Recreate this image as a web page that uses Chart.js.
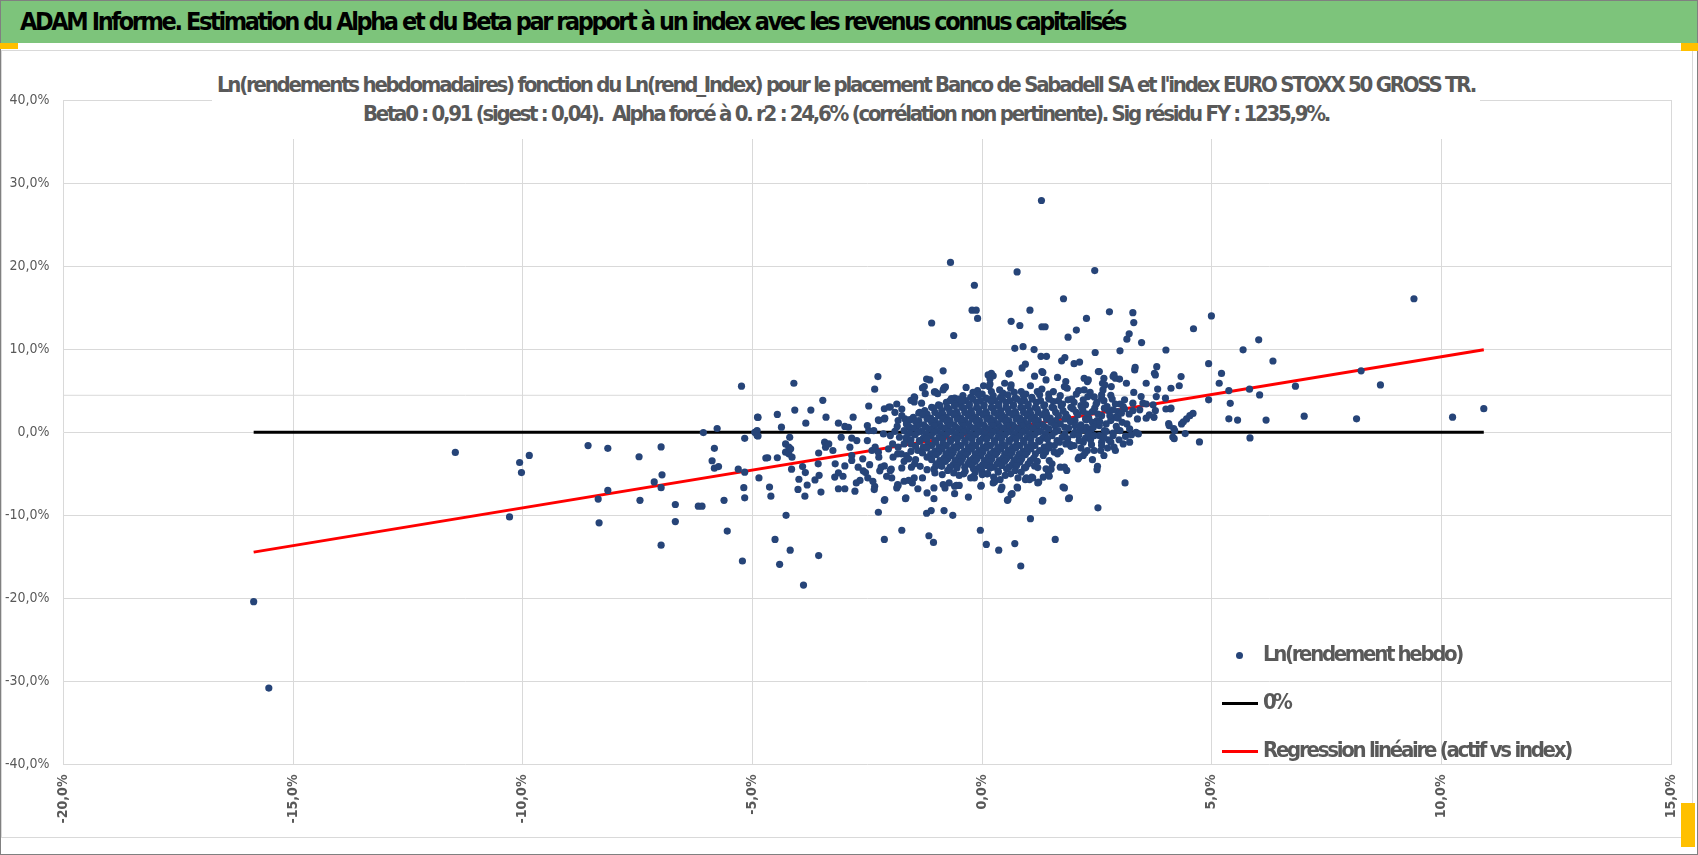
<!DOCTYPE html>
<html lang="fr">
<head>
<meta charset="utf-8">
<title>ADAM Informe - Alpha et Beta</title>
<script src="https://cdn.jsdelivr.net/npm/chart.js@4.4.1/dist/chart.umd.min.js"></script>
<style>
  html, body { margin: 0; padding: 0; background: #fff; }
  body { width: 1698px; height: 855px; position: relative; overflow: hidden;
         font-family: "DejaVu Sans Condensed", "DejaVu Sans", sans-serif; }
  #cadre { position: absolute; left: 0; top: 0; width: 1696px; height: 853px; border: 1px solid #808080; }
  #bordure { position: absolute; left: 1px; top: 50px; width: 1690px; height: 786px; border: 1px solid #d9d9d9; }
  #graphique { position: absolute; left: 0; top: 0; }
  #bandeau { position: absolute; left: 1px; top: 1px; width: 1696px; height: 42px; background: #7dc47b;
             font-weight: bold; font-size: 25px; line-height: 42px; color: #000; white-space: nowrap; }
  #bandeau span { display: inline-block; margin-left: 19px; }
  #titre { position: absolute; left: 212px; top: 70px; width: 1268px; height: 69px; background: #fff;
           color: #595959; font-weight: bold; font-size: 22px; text-align: center; white-space: nowrap; }
  #titre span { display: inline-block; line-height: 29px; }
  .legende { position: absolute; color: #595959; font-size: 22px; font-weight: bold; white-space: nowrap; line-height: 26px; }
  .poignee { position: absolute; background: #ffc000; }
</style>
</head>
<body>
<div id="cadre"></div>
<div id="bordure"></div>
<canvas id="graphique" width="1698" height="855"></canvas>
<div id="bandeau"><span id="texteBandeau">ADAM Informe. Estimation du Alpha et du Beta par rapport à un index avec les revenus connus capitalisés</span></div>
<div id="titre">
  <span id="titre1">Ln(rendements hebdomadaires) fonction du Ln(rend_Index) pour le placement Banco de Sabadell SA et l'index EURO STOXX 50 GROSS TR.</span><br>
  <span id="titre2">Beta0 : 0,91 (sigest : 0,04).&nbsp; Alpha forcé à 0. r2 : 24,6% (corrélation non pertinente). Sig résidu FY : 1235,9%.</span>
</div>
<div id="legende"></div>
<div class="poignee" style="left:0;top:43px;width:18px;height:6px"></div>
<div class="poignee" style="left:1681px;top:43px;width:17px;height:8px"></div>
<div class="poignee" style="left:1681px;top:803px;width:14px;height:44px"></div>

<script>
// Graduations des axes (en %)
const ticksX = [-20, -15, -10, -5, 0, 5, 10, 15];
const ticksY = [-40, -30, -20, -10, 0, 10, 20, 30, 40];

// Beta0 de la régression (alpha forcé à 0)
const beta0 = 0.91;
// ligne grise horizontale visible sur le graphique (axe secondaire)
const ligneAxeSecondaire = 4.45;

// Points : [rend_Index %, rendement hebdo %]
// queue gauche (x < -5)
const nuageQueue = [
  [-15.86,-20.4],[-15.53,-30.8],[-11.47,-2.43],[-10.07,-3.64],[-10.03,-4.85],[-9.86,-2.79],[-10.29,-10.2],
  [-8.58,-1.61],[-8.15,-1.94],[-8.36,-8.05],[-8.15,-7.0],[-8.34,-10.9],[-7.47,-2.95],[-7.45,-8.2],
  [-6.99,-1.77],[-6.97,-5.13],[-7.14,-5.98],[-6.99,-6.67],[-6.99,-13.6],[-6.68,-8.7],[-6.68,-10.75],
  [-6.18,-8.9],[-6.1,-8.9],[-6.07,-0.04],[-5.83,-1.94],[-5.88,-3.43],[-5.83,-4.32],[-5.74,-4.13],
  [-5.77,0.45],[-5.62,-8.2],[-5.55,-11.9],[-5.24,5.55],[-5.31,-4.45],[-5.17,-4.81],[-5.17,-0.73],
  [-5.19,-6.67],[-5.17,-7.89],[-5.22,-15.5]
];

// flanc gauche (-5 <= x < -2)
const nuageGauche = [
  [-4.88,1.78],[-4.95,0.0],[-4.9,0.2],[-4.9,-0.4],[-4.71,-3.1],[-4.86,-5.5],[-4.10,5.9],[-3.47,3.84],
  [-4.08,2.67],[-3.73,2.67],[-4.46,2.14],[-4.89,1.82],[-3.40,1.82],[-3.84,1.09],[-4.37,0.61],[-4.94,-0.04],
  [-4.88,-0.45],[-4.19,-0.61],[-4.28,-1.4],[-4.21,-1.8],[-4.28,-2.4],[-4.21,-2.6],[-4.14,-3.0],[-4.17,-2.0],
  [-4.67,-3.07],[-4.46,-3.07],[-4.15,-4.45],[-4.63,-6.6],[-4.6,-7.7],[-3.99,-5.66],[-4.01,-6.88],[-3.86,-7.69],
  [-3.81,-6.35],[-3.91,-4.13],[-3.85,-4.85],[-3.64,-5.74],[-3.55,-5.18],[-3.51,-7.2],[-3.56,-2.5],[-3.57,-3.8],
  [-3.43,-1.2],[-3.41,-1.8],[-3.34,-1.4],[-3.25,-2.2],[-3.2,-3.8],[-3.21,-5.4],[-3.13,-4.9],[-2.99,-4.05],
  [-3.03,-5.3],[-3.13,-6.8],[-2.99,-6.8],[-3.07,-0.6],[-3.13,1.09],[-2.99,0.7],[-2.91,0.6],[-2.81,1.82],
  [-2.84,-0.7],[-2.88,-1.8],[-2.73,-1.0],[-2.84,-2.8],[-2.84,-3.4],[-2.7,-4.2],[-2.59,-4.65],[-2.66,-5.8],
  [-2.77,-7.1],[-2.74,-6.1],[-4.27,-10.0],[-4.51,-12.9],[-4.41,-15.9],[-4.18,-14.2],[-3.56,-14.85],[-3.89,-18.4],
  [-2.27,6.7],[-2.34,5.18],[-2.47,3.16],[-2.13,2.83],[-2.03,3.03],[-2.26,1.5],[-2.13,1.6],[-2.5,0.8],
  [-2.47,0.2],[-2.36,0.2],[-2.26,-9.63],[-2.13,-12.9],[-2.13,-8.2],[-2.34,-6.5],[-2.38,-5.9],[-2.49,-5.5],
  [-2.54,-4.85],[-2.23,-4.65],[-2.13,-4.05],[-2.4,-2.2],[-2.25,-3.0],[-2.25,1.4],[-2.12,1.7],[-2.15,-0.2],
  [-2.33,-1.8],[-2.26,-2.4],[-2.04,-2.0],[-2.2,-4.2],[-2.08,-5.3],[-2.12,-8.1],[-2.5,-1.0],[-2.6,-3.2],
  [-2.45,-3.9],[-2.35,-6.9]
];

// autour du coeur (-2 <= x < 2), hors zone très dense
const nuageCentre = [
  [-1.98,-4.45],[-2.0,3.03],[-1.86,3.4],[-2.0,-0.4],[-1.9,0.1],[-1.83,1.4],[-1.68,1.6],[-1.57,1.5],
  [-1.83,-1.8],[-1.76,-2.6],[-1.65,-2.8],[-2.0,-4.6],[-1.97,-5.5],[-1.83,-6.4],[-1.86,-6.7],[-1.66,-7.9],
  [-1.84,-6.3],[-1.7,-5.9],[-1.52,-6.1],[-1.48,-5.5],[-1.3,-5.5],[-1.05,-6.7],[-0.85,-6.3],[-0.72,-6.1],
  [-0.6,-6.5],[-0.5,-6.4],[-0.19,-5.3],[-0.03,-6.5],[0.24,-6.1],[-0.87,-5.1],[-1.05,-4.45],[-1.01,-4.05],
  [-1.03,-4.9],[-0.81,-6.7],[-0.56,-6.4],[-0.17,-5.5],[-1.54,-4.2],[-1.47,-3.8],[-1.75,-4.3],[-1.6,-5.8],
  [-1.7,-3.5],[-1.4,-6.8],[-1.2,-7.3],[-1.05,-8.0],[-0.6,-7.4],[-0.3,-7.8],[-1.84,-2.6],[-1.94,-3.0],
  [-1.9,2.4],[-1.75,2.0],[-1.65,-0.9],[-1.8,-0.6],[-1.95,-1.4],[-1.7,-1.4],[-1.85,0.7],[-1.75,2.8],
  [-1.6,-3.2],[-1.45,-3.3],[-1.35,-4.1],[-1.2,-4.5],[-1.55,-2.3],
  [-1.26,5.5],[-1.24,4.65],[-1.02,4.85],[-0.97,4.65],[-0.82,5.35],[-0.85,5.1],[-1.47,4.17],[-1.48,3.64],
  [-1.32,3.5],[-0.67,4.05],[-0.51,3.4],[-1.36,2.4],[-1.55,3.84],[-1.48,4.25],[-1.3,5.34],[-1.04,4.85],
  [-0.83,5.34],[-0.8,5.46],[-1.21,6.4],[-1.14,6.3],[-0.85,7.4],[0.24,6.8],[0.17,6.4],[0.03,5.6],
  [0.17,5.8],[0.2,7.1],[0.13,6.9],[0.58,7.0],
  [-1.75,-11.8],[-1.67,-8.0],[-1.21,-9.75],[-1.11,-9.43],[-1.16,-12.46],[-1.06,-13.27],[-0.83,-9.43],
  [-0.64,-10.0],[-0.04,-11.8],[0.09,-13.5],[0.36,-14.2],[0.71,-13.4],[0.84,-16.1],[1.05,-10.4],[1.59,-12.9],
  [1.31,-8.3],[1.88,-8.0],[1.76,-6.6],[0.55,-8.2],[0.65,-7.4],[0.76,-6.6],[0.43,-6.6],[0.27,-5.95],
  [0.39,-5.7],[-0.02,-6.4],[0.12,-5.0],[0.94,-5.7],[1.08,-5.4],[1.23,-6.0],[1.33,-5.4],[1.44,-5.0],
  [1.52,-3.8],[1.7,-4.2],[1.84,-4.6],[0.77,-6.7],[0.41,-6.9],[0.63,-7.5],[0.56,-8.1],[1.32,-8.2],
  [1.9,-7.9],[1.79,-6.7],[1.21,-6.1],[0.96,-5.5],[1.03,-5.7],[1.1,-5.5],[1.46,-5.3],[1.14,-4.05],
  [1.21,-4.25],[1.39,-4.4],[1.46,-3.4],[1.79,-4.2],[1.5,-4.45],[1.57,-2.4],[1.64,-2.6]
];

// zone très dense, lue par bandes horizontales
const coeurDense = [
  [-0.35,5.4],[-0.1,5.0],[0.15,5.5],[0.38,5.1],[0.62,5.3],[0.85,4.9],[1.05,5.6],[1.3,5.2],[1.55,4.9],[1.85,5.3],[2.1,5.0],
  [-0.2,4.8],[0.0,4.6],[0.2,4.9],[0.45,4.7],[0.7,4.8],[0.95,4.6],[1.2,4.9],[1.45,4.6],
  [-0.6,4.1],[-0.42,4.4],[-0.25,4.2],[-0.08,4.5],[0.08,4.1],[0.24,4.4],[0.4,4.2],[0.56,4.5],[0.72,4.1],
  [0.9,4.4],[1.08,4.2],[1.25,4.5],[1.45,4.1],[1.7,4.4],[1.95,4.0],[2.3,4.3],[2.6,4.1],
  [-0.7,3.8],[-0.52,4.0],[-0.36,3.8],[-0.2,4.0],[-0.04,3.8],[0.12,4.0],[0.28,3.8],[0.44,4.0],[0.6,3.8],
  [0.76,4.0],[0.92,3.8],[1.09,4.0],[1.27,3.8],[1.46,4.0],[1.66,3.8],[1.87,3.9],
  [-0.95,3.3],[-0.78,3.6],[-0.6,3.4],[-0.44,3.7],[-0.28,3.4],[-0.12,3.6],[0.04,3.3],[0.2,3.7],[0.36,3.4],
  [0.52,3.6],[0.68,3.3],[0.84,3.7],[1.0,3.4],[1.18,3.6],[1.36,3.3],[1.55,3.7],[1.75,3.4],[2.0,3.6],
  [2.25,3.3],[2.5,3.6],[3.0,3.4],
  [-1.1,3.0],[-0.92,3.2],[-0.76,3.0],[-0.6,3.2],[-0.44,3.0],[-0.28,3.2],[-0.12,3.0],[0.04,3.2],[0.2,3.0],
  [0.36,3.2],[0.52,3.0],[0.68,3.2],[0.84,3.0],[1.0,3.2],[1.16,3.0],[1.34,3.2],[1.52,3.0],[1.72,3.2],
  [1.93,3.0],[2.15,3.2],
  [-1.25,2.6],[-1.05,2.9],[-0.88,2.6],[-0.72,2.8],[-0.56,2.5],[-0.4,2.9],[-0.24,2.6],[-0.08,2.8],[0.08,2.5],
  [0.24,2.9],[0.4,2.6],[0.56,2.8],[0.72,2.5],[0.88,2.9],[1.04,2.6],[1.2,2.8],[1.38,2.5],[1.56,2.9],
  [1.76,2.6],[1.98,2.8],[2.2,2.5],[2.45,2.9],[2.75,2.6],[3.1,2.8],
  [-1.38,2.3],[-1.2,2.2],[-1.03,2.4],[-0.86,2.2],[-0.7,2.4],[-0.54,2.2],[-0.38,2.4],[-0.22,2.2],[-0.06,2.4],
  [0.1,2.2],[0.26,2.4],[0.42,2.2],[0.58,2.4],[0.74,2.2],[0.9,2.4],[1.06,2.2],[1.22,2.4],[1.4,2.2],
  [1.6,2.4],[1.82,2.2],[2.05,2.4],[2.3,2.2],
  [-1.5,1.8],[-1.3,2.1],[-1.12,1.7],[-0.95,2.0],[-0.78,1.8],[-0.62,2.1],[-0.46,1.7],[-0.3,2.0],[-0.14,1.8],
  [0.02,2.1],[0.18,1.7],[0.34,2.0],[0.5,1.8],[0.66,2.1],[0.82,1.7],[0.98,2.0],[1.14,1.8],[1.3,2.1],
  [1.48,1.7],[1.66,2.0],[1.86,1.8],[2.08,2.1],[2.32,1.7],[2.6,2.0],[2.9,1.8],
  [-1.58,1.5],[-1.38,1.4],[-1.2,1.6],[-1.03,1.4],[-0.86,1.6],[-0.7,1.4],[-0.54,1.6],[-0.38,1.4],[-0.22,1.6],
  [-0.06,1.4],[0.1,1.6],[0.26,1.4],[0.42,1.6],[0.58,1.4],[0.74,1.6],[0.9,1.4],[1.06,1.6],[1.22,1.4],
  [1.4,1.6],[1.6,1.4],[1.8,1.6],[2.02,1.4],[2.25,1.6],[2.5,1.4],
  [-1.65,1.0],[-1.45,1.3],[-1.27,0.9],[-1.1,1.2],[-0.93,1.0],[-0.77,1.3],[-0.61,0.9],[-0.45,1.2],[-0.29,1.0],
  [-0.13,1.3],[0.03,0.9],[0.19,1.2],[0.35,1.0],[0.51,1.3],[0.67,0.9],[0.83,1.2],[0.99,1.0],[1.15,1.3],
  [1.32,0.9],[1.5,1.2],[1.7,1.0],[1.92,1.3],[2.15,0.9],[2.4,1.2],[2.7,1.0],[3.05,1.2],
  [-1.6,0.7],[-1.4,0.8],[-1.22,0.6],[-1.05,0.8],[-0.89,0.6],[-0.73,0.8],[-0.57,0.6],[-0.41,0.8],[-0.25,0.6],
  [-0.09,0.8],[0.07,0.6],[0.23,0.8],[0.39,0.6],[0.55,0.8],[0.71,0.6],[0.87,0.8],[1.03,0.6],[1.2,0.8],
  [1.38,0.6],[1.58,0.8],[1.8,0.6],[2.02,0.8],[2.27,0.6],[2.55,0.8],
  [-1.7,0.2],[-1.5,0.5],[-1.32,0.1],[-1.15,0.4],[-0.98,0.2],[-0.82,0.5],[-0.66,0.1],[-0.5,0.4],[-0.34,0.2],
  [-0.18,0.5],[-0.02,0.1],[0.14,0.4],[0.3,0.2],[0.46,0.5],[0.62,0.1],[0.78,0.4],[0.94,0.2],[1.1,0.5],
  [1.27,0.1],[1.45,0.4],[1.65,0.2],[1.88,0.5],[2.12,0.1],[2.38,0.4],[2.66,0.2],[2.95,0.3],
  [-1.58,-0.1],[-1.4,0.0],[-1.22,-0.2],[-1.05,0.0],[-0.89,-0.2],[-0.73,0.0],[-0.57,-0.2],[-0.41,0.0],[-0.25,-0.2],
  [-0.09,0.0],[0.07,-0.2],[0.23,0.0],[0.39,-0.2],[0.55,0.0],[0.71,-0.2],[0.87,0.0],[1.03,-0.2],[1.2,0.0],
  [1.38,-0.2],[1.58,0.0],[1.8,-0.2],[2.02,0.0],[2.3,-0.1],
  [-1.65,-0.6],[-1.46,-0.3],[-1.28,-0.7],[-1.11,-0.4],[-0.94,-0.6],[-0.78,-0.3],[-0.62,-0.7],[-0.46,-0.4],
  [-0.3,-0.6],[-0.14,-0.3],[0.02,-0.7],[0.18,-0.4],[0.34,-0.6],[0.5,-0.3],[0.66,-0.7],[0.82,-0.4],
  [0.98,-0.6],[1.14,-0.3],[1.32,-0.7],[1.52,-0.4],[1.74,-0.6],[1.98,-0.3],[2.25,-0.7],[2.55,-0.4],
  [-1.55,-0.9],[-1.37,-1.0],[-1.2,-0.8],[-1.03,-1.0],[-0.86,-0.8],[-0.7,-1.0],[-0.54,-0.8],[-0.38,-1.0],
  [-0.22,-0.8],[-0.06,-1.0],[0.1,-0.8],[0.26,-1.0],[0.42,-0.8],[0.58,-1.0],[0.74,-0.8],[0.9,-1.0],
  [1.06,-0.8],[1.23,-1.0],[1.42,-0.8],[1.63,-1.0],[1.86,-0.8],
  [-1.55,-1.4],[-1.36,-1.1],[-1.18,-1.5],[-1.01,-1.2],[-0.85,-1.4],[-0.69,-1.1],[-0.53,-1.5],[-0.37,-1.2],
  [-0.21,-1.4],[-0.05,-1.1],[0.11,-1.5],[0.27,-1.2],[0.43,-1.4],[0.59,-1.1],[0.75,-1.5],[0.91,-1.2],
  [1.07,-1.4],[1.25,-1.1],[1.45,-1.5],[1.68,-1.2],[1.92,-1.5],[2.2,-1.2],
  [-1.45,-1.7],[-1.28,-1.8],[-1.1,-1.6],[-0.94,-1.8],[-0.78,-1.6],[-0.62,-1.8],[-0.46,-1.6],[-0.3,-1.8],
  [-0.14,-1.6],[0.02,-1.8],[0.18,-1.6],[0.34,-1.8],[0.5,-1.6],[0.66,-1.8],[0.82,-1.6],[0.98,-1.8],
  [1.15,-1.6],[1.35,-1.8],[1.57,-1.6],
  [-1.4,-2.2],[-1.2,-1.9],[-1.03,-2.3],[-0.87,-2.0],[-0.71,-2.2],[-0.55,-1.9],[-0.39,-2.3],[-0.23,-2.0],
  [-0.07,-2.2],[0.09,-1.9],[0.25,-2.3],[0.41,-2.0],[0.57,-2.2],[0.73,-1.9],[0.89,-2.3],[1.06,-2.0],
  [1.25,-2.2],[1.46,-1.9],[1.7,-2.3],
  [-1.3,-2.5],[-1.12,-2.6],[-0.95,-2.4],[-0.79,-2.6],[-0.63,-2.4],[-0.47,-2.6],[-0.31,-2.4],[-0.15,-2.6],
  [0.01,-2.4],[0.17,-2.6],[0.33,-2.4],[0.49,-2.6],[0.65,-2.4],[0.81,-2.6],[0.98,-2.4],[1.16,-2.6],[1.38,-2.4],
  [-1.2,-3.0],[-1.0,-2.7],[-0.83,-3.1],[-0.67,-2.8],[-0.51,-3.0],[-0.35,-2.7],[-0.19,-3.1],[-0.03,-2.8],
  [0.13,-3.0],[0.29,-2.7],[0.45,-3.1],[0.61,-2.8],[0.77,-3.0],[0.94,-2.7],[1.12,-3.1],[1.33,-2.8],
  [-1.1,-3.3],[-0.92,-3.4],[-0.75,-3.2],[-0.59,-3.4],[-0.43,-3.2],[-0.27,-3.4],[-0.11,-3.2],[0.05,-3.4],
  [0.21,-3.2],[0.37,-3.4],[0.53,-3.2],[0.69,-3.4],[0.86,-3.2],[1.05,-3.4],
  [-1.0,-3.8],[-0.8,-3.5],[-0.63,-3.9],[-0.47,-3.6],[-0.31,-3.8],[-0.15,-3.5],[0.01,-3.9],[0.17,-3.6],
  [0.33,-3.8],[0.49,-3.5],[0.65,-3.9],[0.82,-3.6],[1.0,-3.8],[1.2,-3.5],
  [-0.88,-4.1],[-0.7,-4.2],[-0.54,-4.0],[-0.38,-4.2],[-0.22,-4.0],[-0.06,-4.2],[0.1,-4.0],[0.26,-4.2],
  [0.42,-4.0],[0.58,-4.2],[0.75,-4.0],[0.95,-4.2],
  [-0.75,-4.6],[-0.55,-4.3],[-0.37,-4.7],[-0.19,-4.4],[-0.01,-4.6],[0.17,-4.3],[0.35,-4.7],[0.53,-4.4],
  [0.72,-4.6],[0.92,-4.3],
  [-0.62,-4.9],[-0.4,-5.0],[-0.15,-4.8],[0.1,-5.0],[0.35,-4.8],[0.62,-5.0],[0.85,-4.8],
  [-0.5,-5.2],[-0.25,-5.5],[0.0,-5.1],[0.25,-5.4],[0.5,-5.2],[0.78,-5.5]
];

// points hauts (au-dessus de 7 %)
const nuageHaut = [
  [1.29,27.9],[-0.69,20.45],[0.76,19.3],[2.45,19.46],[1.77,16.07],[-0.17,17.7],[-0.22,14.7],[-0.13,14.7],
  [-0.1,13.7],[-1.1,13.15],[-0.62,11.65],[1.04,14.7],[0.63,13.35],[0.82,12.85],[1.3,12.7],[1.37,12.7],
  [2.77,14.5],[2.27,13.7],[2.05,12.3],[1.87,11.45],[3.28,14.4],[3.30,13.2],[3.2,11.85],[3.15,11.2],
  [3.47,10.8],[3.0,9.8],[2.46,9.6],[0.71,10.1],[0.89,10.3],[1.13,9.95],[1.28,9.14],[1.4,9.14],
  [1.73,8.6],[1.8,9.0],[2.0,8.25],[2.12,8.45],[0.94,8.2],[0.87,7.75],[1.3,7.3]
];

// centre droit (2 <= x < 3.5 et bords du coeur)
const nuageDroitCentre = [
  [0.59,7.1],[0.49,5.9],[0.63,5.7],[1.14,6.75],[1.32,7.2],[1.39,6.3],[1.64,6.6],[1.82,6.1],[1.79,5.5],
  [2.22,6.5],[2.29,6.1],[2.55,7.3],[2.65,6.5],[2.62,5.9],[2.87,6.9],[2.9,6.5],[2.22,5.1],[2.44,4.25],
  [2.65,3.8],[2.8,4.45],[2.9,3.4],[3.32,7.5],[3.14,5.9],[2.85,6.7],[2.99,6.4],[2.81,5.5],[2.67,5.7],
  [2.53,7.3],[2.31,6.3],[2.63,5.1],[3.28,3.5],[3.43,2.7],[3.46,4.3],[3.33,7.8],
  [2.05,4.6],[2.2,3.9],[2.35,4.8],[2.48,3.4],[2.6,4.5],[2.72,3.1],[2.83,4.0],[2.95,2.5],[3.1,3.9],
  [3.2,2.2],[3.3,4.8],[3.38,1.6],[2.18,2.9],[2.4,2.5],[2.52,2.2],[2.66,2.9],[2.8,1.4],[2.92,0.7],
  [3.15,1.0],[3.28,2.6],[2.1,-0.4],[2.2,0.3],[2.33,-0.2],[2.48,1.0],[2.6,-1.2],[2.75,-0.9],[2.98,-0.9],
  [3.12,-0.5],[3.25,-0.3],[2.15,-1.9],[2.38,-1.5],[2.6,-1.6],[2.8,-1.2],[2.2,-2.8],[2.4,-3.3],[2.65,-2.8],
  [2.11,-3.0],[2.29,-2.2],[2.44,-2.2],[2.58,-2.2],[2.73,-1.9],[2.87,-1.8],[2.51,-4.1],[2.11,-1.0],
  [2.36,-0.9],[2.44,-0.4],[2.65,-0.6],[2.85,-0.4],[1.82,-1.4],[1.93,-1.7],[2.0,-1.6],[2.09,-3.2],
  [2.24,-2.5],[2.9,-2.2],[3.07,-1.4],[3.21,-1.2],[3.35,0.0],[2.7,0.1],[2.85,-0.1],[3.0,0.2],
  [3.21,0.4],[3.4,-0.2],[2.96,1.7],[3.03,2.3],[3.07,3.1],[2.85,2.7],[2.78,2.0],[2.56,1.25],
  [2.42,0.6],[2.27,1.5],[2.13,0.6],[2.5,-4.5],[2.52,-9.1],[3.11,-6.1]
];

// flanc droit (x >= 3.5)
const nuageDroit = [
  [3.5,3.5],[3.57,5.9],[3.57,3.4],[3.57,1.7],[3.64,2.1],[3.72,3.3],[3.74,1.8],[3.75,7.1],[3.77,6.9],
  [3.77,2.6],[3.79,4.3],[3.8,7.9],[3.82,5.2],[3.99,4.1],[4.0,9.9],[4.0,2.8],[4.06,1.05],[4.07,0.8],
  [4.1,2.8],[4.11,5.3],[4.11,2.9],[4.15,-0.57],[4.18,-0.77],[4.19,0.2],[4.17,0.45],[4.29,5.6],
  [4.33,6.7],[4.34,1.0],[4.38,1.25],[4.42,-0.16],[4.45,1.6],[4.52,2.0],[4.59,2.27],[4.6,12.46],
  [4.73,-1.17],[4.93,8.25],[4.93,3.9],[4.99,14.0],[5.16,5.9],[5.21,7.08],[5.37,5.02],[5.4,3.48],
  [5.37,1.62],[5.56,1.46],[5.68,9.92],[5.82,5.18],[5.83,-0.68],[6.02,11.13],[6.04,4.49],[6.18,1.46],
  [6.33,8.58],[6.82,5.55],[7.01,1.94],[8.15,1.62],[8.25,7.4],[8.67,5.7],[9.40,16.07],[10.24,1.82],
  [10.92,2.84]
];

const tousLesPoints = [].concat(nuageQueue, nuageGauche, nuageCentre, coeurDense, nuageHaut, nuageDroitCentre, nuageDroit);
const xs = tousLesPoints.map(p => p[0]);
const xMin = Math.min(...xs);
const xMax = Math.max(...xs);

const pourcent = v => v.toFixed(1).replace('.', ',') + '%';
const gris = '#595959';
const grille = '#d9d9d9';

const ctx = document.getElementById('graphique').getContext('2d');
const chart = new Chart(ctx, {
  type: 'scatter',
  data: {
    datasets: [
      {
        label: 'Ln(rendement hebdo)',
        data: tousLesPoints.map(p => ({ x: p[0], y: p[1] })),
        backgroundColor: '#264478',
        borderWidth: 0,
        pointRadius: 3.6,
        pointHoverRadius: 3.6,
        order: 0
      },
      {
        label: '0%',
        type: 'line',
        data: [{ x: xMin, y: 0 }, { x: xMax, y: 0 }],
        borderColor: '#000000',
        borderWidth: 3,
        pointRadius: 0,
        order: 2
      },
      {
        label: 'Regression linéaire (actif vs index)',
        type: 'line',
        data: [{ x: xMin, y: beta0 * xMin }, { x: xMax, y: beta0 * xMax }],
        borderColor: '#ff0000',
        borderWidth: 3,
        pointRadius: 0,
        order: 1
      },
      {
        label: '',
        type: 'line',
        data: [{ x: ticksX[0], y: ligneAxeSecondaire }, { x: ticksX[ticksX.length - 1], y: ligneAxeSecondaire }],
        borderColor: grille,
        borderWidth: 1,
        pointRadius: 0,
        order: 3
      }
    ]
  },
  options: {
    responsive: false,
    animation: false,
    devicePixelRatio: 1,
    layout: { padding: { top: 100, right: 16, left: 0, bottom: 0 } },
    plugins: { legend: { display: false }, tooltip: { enabled: false } },
    scales: {
      x: {
        type: 'linear',
        min: ticksX[0],
        max: ticksX[ticksX.length - 1],
        afterBuildTicks: s => { s.ticks = ticksX.map(v => ({ value: v })); },
        afterFit: s => { s.height = 90.5; },
        grid: { color: grille, lineWidth: 1, drawTicks: false },
        border: { display: false },
        ticks: {
          callback: pourcent,
          minRotation: 90,
          maxRotation: 90,
          padding: 10,
          color: gris,
          font: { family: '"DejaVu Sans Condensed", "DejaVu Sans"', size: 14, weight: 'bold' }
        }
      },
      y: {
        min: ticksY[0],
        max: ticksY[ticksY.length - 1],
        afterBuildTicks: s => { s.ticks = ticksY.map(v => ({ value: v })); },
        afterFit: s => { s.width = 63.5; },
        grid: { color: grille, lineWidth: 1, drawTicks: false },
        border: { display: false },
        ticks: {
          callback: pourcent,
          padding: 14,
          color: gris,
          font: { family: '"DejaVu Sans Condensed", "DejaVu Sans"', size: 14 }
        }
      }
    }
  }
});

// Légende : construite à partir des séries du graphique
const positionsLegende = [
  { y: 655, text: 1263 },
  { y: 703, text: 1263 },
  { y: 751, text: 1263 }
];
const legende = document.getElementById('legende');
chart.data.datasets.slice(0, 3).forEach((ds, i) => {
  const pos = positionsLegende[i];
  const marque = document.createElement('div');
  marque.style.position = 'absolute';
  if (i === 0) {
    marque.style.left = '1236px';
    marque.style.top = (pos.y - 3.5) + 'px';
    marque.style.width = '7px';
    marque.style.height = '7px';
    marque.style.borderRadius = '50%';
    marque.style.background = ds.backgroundColor;
  } else {
    marque.style.left = '1222px';
    marque.style.top = (pos.y - 1.5) + 'px';
    marque.style.width = '36px';
    marque.style.height = '3px';
    marque.style.background = ds.borderColor;
  }
  legende.appendChild(marque);
  const texte = document.createElement('span');
  texte.className = 'legende';
  texte.textContent = ds.label;
  texte.style.left = pos.text + 'px';
  texte.style.top = (pos.y - 14) + 'px';
  legende.appendChild(texte);
});

// ajuste l'espacement des lettres pour retrouver la largeur des textes d'origine
function ajusterLargeur(el, cible) {
  const n = el.textContent.length;
  let espacement = 0;
  for (let passe = 0; passe < 3; passe++) {
    const w = el.getBoundingClientRect().width;
    espacement += (cible - w) / n;
    el.style.letterSpacing = espacement + 'px';
  }
}
ajusterLargeur(document.getElementById('texteBandeau'), 1105);
ajusterLargeur(document.getElementById('titre1'), 1258);
ajusterLargeur(document.getElementById('titre2'), 966);
const textesLegende = legende.querySelectorAll('.legende');
ajusterLargeur(textesLegende[0], 199);
ajusterLargeur(textesLegende[1], 26);
ajusterLargeur(textesLegende[2], 308);
</script>
</body>
</html>
